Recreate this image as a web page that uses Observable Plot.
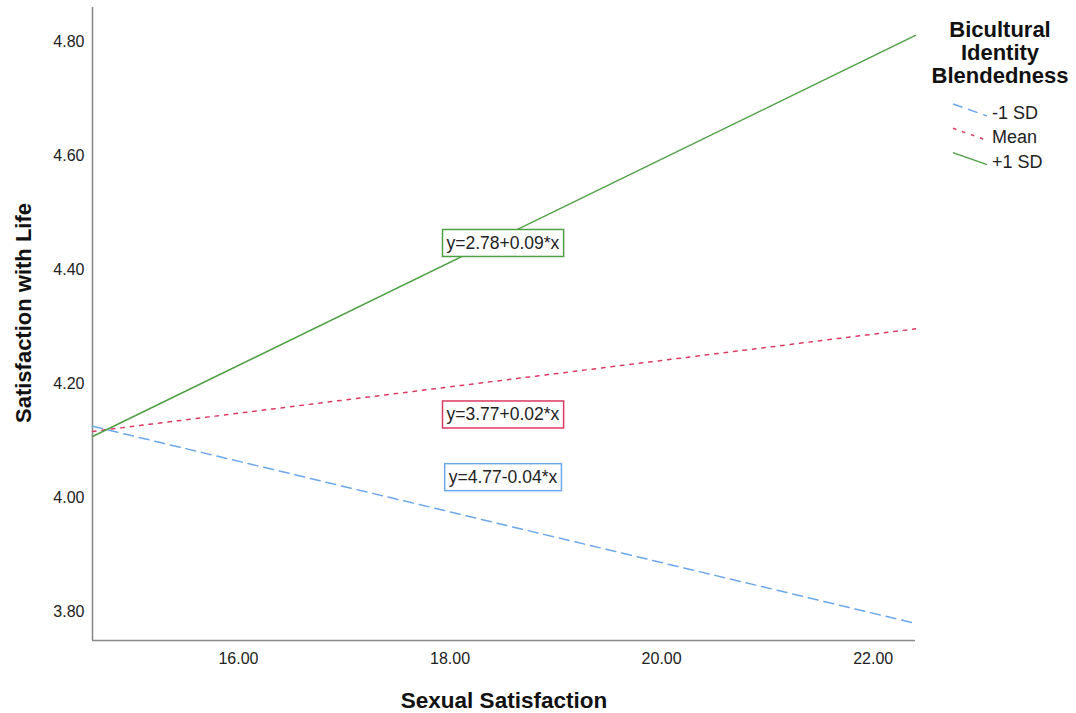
<!DOCTYPE html>
<html>
<head>
<meta charset="utf-8">
<script src="https://cdn.jsdelivr.net/npm/d3@7"></script>
<script src="https://cdn.jsdelivr.net/npm/@observablehq/plot@0.6"></script>
<style>
  html, body { margin: 0; padding: 0; background: #fff; }
  #chart { position: relative; width: 1076px; height: 713px; }
  svg { font-family: "Liberation Sans", Arial, sans-serif; }
</style>
</head>
<body>
<div id="chart"></div>
<script>
// ---- data ----
const groups = ["-1 SD", "Mean", "+1 SD"];
const xRange = [14.62, 22.40];           // x extent of each fit line
const yStart = [4.125, 4.116, 4.107];    // fitted y at xRange[0]
const yEnd   = [3.779, 4.296, 4.811];    // fitted y at xRange[1]
const colors = ["#6ea8ec", "#dc3a62", "#4f9f45"];
const dashes = ["10,6", "3.5,6", null];
const eqText = ["y=4.77-0.04*x", "y=3.77+0.02*x", "y=2.78+0.09*x"];
const eqX    = [18.50, 18.50, 18.50];
const eqY    = [4.035, 4.145, 4.446];
const xTicks = [16, 18, 20, 22];
const yTicks = [3.8, 4.0, 4.2, 4.4, 4.6, 4.8];
const yDomain = [3.749, 4.86];
const legendTitle = ["Bicultural", "Identity", "Blendedness"];

// ---- build table ----
const lines = [];
groups.forEach((g, i) => {
  lines.push({group: g, i, x: xRange[0], y: yStart[i]});
  lines.push({group: g, i, x: xRange[1], y: yEnd[i]});
});
const eqs = eqText.map((t, i) => ({t, i, x: eqX[i], y: eqY[i]}));

const marks = [
  Plot.ruleX([xRange[0]], {y1: yDomain[0], y2: yDomain[1], stroke: "#8a8a8a", strokeWidth: 1.6}),
  Plot.ruleY([yDomain[0]], {x1: xRange[0], x2: xRange[1], stroke: "#8a8a8a", strokeWidth: 1.6}),
];
groups.forEach((g, i) => {
  marks.push(Plot.line(lines.filter(d => d.i === i), {
    x: "x", y: "y", stroke: colors[i], strokeWidth: 1.5,
    strokeDasharray: dashes[i] || undefined
  }));
});
marks.push(Plot.text(eqs, {
  x: "x", y: "y", text: "t", fill: "#222", fontSize: 17.5, className: "eqlabel"
}));
marks.push(Plot.axisX(xTicks, {tickSize: 0, tickPadding: 12, fontSize: 16, fill: "#222",
  tickFormat: d => d.toFixed(2), label: null}));
marks.push(Plot.axisY(yTicks, {tickSize: 0, tickPadding: 8, fontSize: 16, fill: "#222",
  tickFormat: d => d.toFixed(2), label: null}));

const svg = Plot.plot({
  width: 1076, height: 713,
  marginLeft: 92, marginRight: 161, marginTop: 7, marginBottom: 73,
  x: {domain: xRange},
  y: {domain: yDomain},
  style: {fontFamily: '"Liberation Sans", Arial, sans-serif', background: "#fff"},
  marks
});
document.getElementById("chart").appendChild(svg);

const s = d3.select(svg);
// boxes around the equations
s.selectAll("g.eqlabel text").each(function(d, k) {
  const bb = this.getBBox();
  d3.select(this.parentNode).insert("rect", () => this)
    .attr("transform", this.getAttribute("transform"))
    .attr("x", bb.x - 4).attr("y", bb.y - 3.5)
    .attr("width", bb.width + 8).attr("height", bb.height + 7)
    .attr("fill", "#fff").attr("stroke", colors[eqs[k].i]).attr("stroke-width", 1.5);
});

// axis titles
s.append("text").attr("x", 504).attr("y", 708).attr("text-anchor", "middle")
  .attr("font-size", 22.5).attr("font-weight", "bold").attr("fill", "#111").text("Sexual Satisfaction");
s.append("text").attr("transform", "translate(31,313) rotate(-90)").attr("text-anchor", "middle")
  .attr("font-size", 22).attr("font-weight", "bold").attr("fill", "#111").text("Satisfaction with Life");

// legend
const lg = s.append("g");
legendTitle.forEach((t, k) => {
  lg.append("text").attr("x", 1000).attr("y", 37 + k * 23).attr("text-anchor", "middle")
    .attr("font-size", 22).attr("font-weight", "bold").attr("fill", "#111").text(t);
});
groups.forEach((g, k) => {
  const cy = 110 + k * 24.3;
  lg.append("line").attr("x1", 953).attr("y1", cy - 6).attr("x2", 987).attr("y2", cy + 6)
    .attr("stroke", colors[k]).attr("stroke-width", 1.5)
    .attr("stroke-dasharray", dashes[k] || null);
  lg.append("text").attr("x", 992).attr("y", 119 + k * 24.3).attr("text-anchor", "start")
    .attr("font-size", 18).attr("fill", "#222").text(g);
});
</script>
</body>
</html>
